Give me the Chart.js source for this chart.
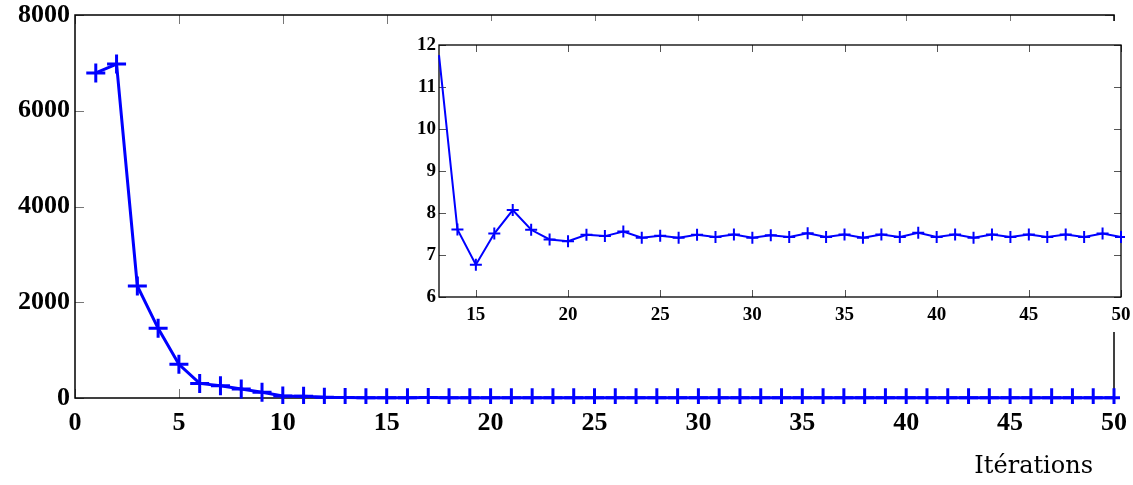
<!DOCTYPE html>
<html><head><meta charset="utf-8">
<script src="https://cdn.jsdelivr.net/npm/chart.js@4/dist/chart.umd.min.js"></script>
<style>
html,body{margin:0;padding:0;background:#fff;overflow:hidden}
#wrap{position:relative;width:1133px;height:485px}
#main{position:absolute;left:0;top:0}
#inset{position:absolute;left:405px;top:21px;background:#fff}
</style></head><body>
<div id="wrap"><canvas id="main" width="1133" height="485"></canvas><canvas id="inset" width="728" height="311"></canvas></div>
<script>
// ---- data ----
const iterations = Array.from({length: 50}, (_, i) => i + 1);
const values = [6790, 6975, 2340, 1455, 705, 305, 255, 190, 120, 40, 35, 16,
  11.76, 7.61, 6.77, 7.51, 8.07, 7.60, 7.37, 7.33, 7.48, 7.45, 7.56, 7.41, 7.46,
  7.41, 7.48, 7.43, 7.49, 7.41, 7.47, 7.43, 7.52, 7.43, 7.49, 7.41, 7.49, 7.43,
  7.53, 7.43, 7.49, 7.41, 7.49, 7.43, 7.49, 7.43, 7.49, 7.43, 7.51, 7.43];
const mainXTicks = [0, 5, 10, 15, 20, 25, 30, 35, 40, 45, 50];
const mainYTicks = [0, 2000, 4000, 6000, 8000];
const insetStart = 13;
const insetXTicks = [15, 20, 25, 30, 35, 40, 45, 50];
const insetYTicks = [6, 7, 8, 9, 10, 11, 12];
const xTitle = 'Itérations';

const mainPoints = iterations.map((it, i) => ({x: it, y: values[i]}));
const insetPoints = mainPoints.filter(p => p.x >= insetStart);

const BLUE = '#0000ff';
const SERIF = 'Liberation Serif, Times New Roman, serif';

const axesBox = {
  id: 'axesBox',
  beforeDatasetsDraw(chart, args, o) {
    const {ctx, chartArea: a, scales: {x, y}} = chart;
    ctx.save();
    ctx.strokeStyle = o.tickColor;
    ctx.lineWidth = 1;
    ctx.beginPath();
    x.ticks.forEach(t => {
      const px = Math.round(x.getPixelForValue(t.value)) + 0.5;
      ctx.moveTo(px, a.bottom); ctx.lineTo(px, a.bottom - o.len);
      ctx.moveTo(px, a.top); ctx.lineTo(px, a.top + o.len);
    });
    y.ticks.forEach(t => {
      const py = Math.round(y.getPixelForValue(t.value)) + 0.5;
      ctx.moveTo(a.left, py); ctx.lineTo(a.left + o.len, py);
      ctx.moveTo(a.right, py); ctx.lineTo(a.right - o.len, py);
    });
    ctx.stroke();
    ctx.strokeStyle = '#000';
    ctx.lineWidth = o.border;
    ctx.strokeRect(a.left, a.top, a.right - a.left, a.bottom - a.top);
    ctx.restore();
  }
};

const titlePlugin = {
  id: 'xTitleText',
  afterDraw(chart) {
    const ctx = chart.ctx;
    ctx.save();
    ctx.font = '24px "DejaVu Serif"';
    ctx.fillStyle = '#000';
    ctx.textAlign = 'right';
    ctx.textBaseline = 'alphabetic';
    ctx.fillText(xTitle, 1093, 473);
    ctx.restore();
  }
};

function setTicks(arr) {
  return s => { s.ticks = arr.map(v => ({value: v})); };
}
function fixSize(prop, v) {
  return s => {
    s[prop] = v;
    s.paddingLeft = 0; s.paddingRight = 0; s.paddingTop = 0; s.paddingBottom = 0;
  };
}
const plain = v => String(v);

new Chart(document.getElementById('main'), {
  type: 'line',
  data: {datasets: [{
    data: mainPoints,
    borderColor: BLUE, backgroundColor: BLUE,
    borderWidth: 3, pointStyle: 'cross', pointRadius: 9.5,
    pointBorderWidth: 3, pointBorderColor: BLUE, tension: 0, clip: 6
  }]},
  options: {
    responsive: false, animation: false, devicePixelRatio: 1,
    layout: {padding: {left: 0, right: 19, top: 15, bottom: 0}},
    plugins: {legend: {display: false}, tooltip: {enabled: false},
      axesBox: {len: 9, tickColor: '#777', border: 1.5}},
    scales: {
      x: {type: 'linear', min: 0, max: 50,
        afterBuildTicks: setTicks(mainXTicks),
        afterFit: fixSize('height', 87),
        grid: {display: false, drawTicks: false}, border: {display: false},
        ticks: {padding: 10, color: '#000', maxRotation: 0, callback: plain,
          font: {family: SERIF, size: 26, weight: 'bold'}}},
      y: {type: 'linear', min: 0, max: 8000,
        afterBuildTicks: setTicks(mainYTicks),
        afterFit: fixSize('width', 75),
        grid: {display: false, drawTicks: false}, border: {display: false},
        ticks: {padding: 5, color: '#000', callback: plain,
          font: {family: SERIF, size: 26, weight: 'bold'}}}
    }
  },
  plugins: [axesBox, titlePlugin]
});

new Chart(document.getElementById('inset'), {
  type: 'line',
  data: {datasets: [{
    data: insetPoints,
    borderColor: BLUE, backgroundColor: BLUE,
    borderWidth: 2, pointStyle: 'cross',
    pointRadius: c => (c.dataIndex === 0 ? 0 : 6),
    pointBorderWidth: 2, pointBorderColor: BLUE, tension: 0, clip: 4
  }]},
  options: {
    responsive: false, animation: false, devicePixelRatio: 1,
    layout: {padding: {left: 0, right: 12, top: 24, bottom: 0}},
    plugins: {legend: {display: false}, tooltip: {enabled: false},
      axesBox: {len: 7, tickColor: '#555', border: 1.3}},
    scales: {
      x: {type: 'linear', min: 13, max: 50,
        afterBuildTicks: setTicks(insetXTicks),
        afterFit: fixSize('height', 35),
        grid: {display: false, drawTicks: false}, border: {display: false},
        ticks: {padding: 7, color: '#000', maxRotation: 0, callback: plain,
          font: {family: SERIF, size: 19, weight: 'bold'}}},
      y: {type: 'linear', min: 6, max: 12,
        afterBuildTicks: setTicks(insetYTicks),
        afterFit: fixSize('width', 34),
        grid: {display: false, drawTicks: false}, border: {display: false},
        ticks: {padding: 3, color: '#000', callback: plain,
          font: {family: SERIF, size: 19, weight: 'bold'}}}
    }
  },
  plugins: [axesBox]
});
</script>
</body></html>
